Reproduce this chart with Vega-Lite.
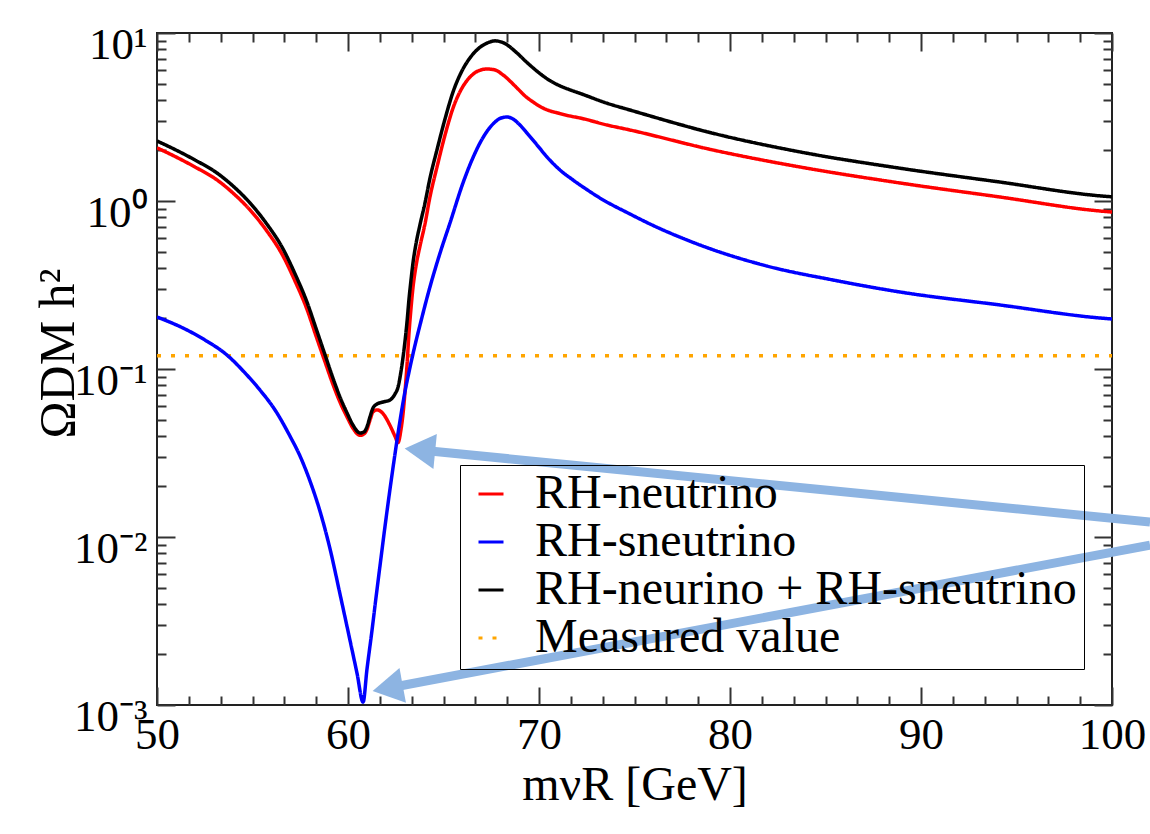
{
  "$schema": "https://vega.github.io/schema/vega-lite/v6.json",
  "width": 955,
  "height": 672,
  "autosize": "none",
  "padding": {"left": 157, "top": 33, "right": 38, "bottom": 129},
  "background": "white",
  "config": {
    "font": "Liberation Serif",
    "view": {"stroke": "#222", "strokeWidth": 2},
    "axis": {"grid": false, "domain": false, "labelFont": "Liberation Serif", "titleFont": "Liberation Serif", "labelColor": "#000", "titleColor": "#000", "tickColor": "#333", "labelFlush": false, "labelOverlap": false, "labelBound": false, "titleFontWeight": "normal"}
  },
  "datasets": {
    "curves": [
      {"m": 50, "v": 0.12, "s": "Measured value"},
      {"m": 100, "v": 0.12, "s": "Measured value"},
      {"m": 50.00, "v": 2.072, "s": "RH-neutrino"},
      {"m": 50.99, "v": 1.83, "s": "RH-neutrino"},
      {"m": 51.99, "v": 1.594, "s": "RH-neutrino"},
      {"m": 53.14, "v": 1.335, "s": "RH-neutrino"},
      {"m": 53.98, "v": 1.115, "s": "RH-neutrino"},
      {"m": 54.87, "v": 0.885, "s": "RH-neutrino"},
      {"m": 55.71, "v": 0.673, "s": "RH-neutrino"},
      {"m": 56.60, "v": 0.47, "s": "RH-neutrino"},
      {"m": 57.23, "v": 0.333, "s": "RH-neutrino"},
      {"m": 57.85, "v": 0.227, "s": "RH-neutrino"},
      {"m": 58.32, "v": 0.158, "s": "RH-neutrino"},
      {"m": 58.80, "v": 0.11, "s": "RH-neutrino"},
      {"m": 59.21, "v": 0.0811, "s": "RH-neutrino"},
      {"m": 59.58, "v": 0.0635, "s": "RH-neutrino"},
      {"m": 59.95, "v": 0.0518, "s": "RH-neutrino"},
      {"m": 60.26, "v": 0.0444, "s": "RH-neutrino"},
      {"m": 60.63, "v": 0.0403, "s": "RH-neutrino"},
      {"m": 60.84, "v": 0.0411, "s": "RH-neutrino"},
      {"m": 60.99, "v": 0.0436, "s": "RH-neutrino"},
      {"m": 61.15, "v": 0.0496, "s": "RH-neutrino"},
      {"m": 61.31, "v": 0.0556, "s": "RH-neutrino"},
      {"m": 61.52, "v": 0.0571, "s": "RH-neutrino"},
      {"m": 61.83, "v": 0.0543, "s": "RH-neutrino"},
      {"m": 62.20, "v": 0.0461, "s": "RH-neutrino"},
      {"m": 62.46, "v": 0.0398, "s": "RH-neutrino"},
      {"m": 62.62, "v": 0.0365, "s": "RH-neutrino"},
      {"m": 62.77, "v": 0.0433, "s": "RH-neutrino"},
      {"m": 62.88, "v": 0.054, "s": "RH-neutrino"},
      {"m": 62.98, "v": 0.072, "s": "RH-neutrino"},
      {"m": 63.09, "v": 0.1056, "s": "RH-neutrino"},
      {"m": 63.19, "v": 0.1616, "s": "RH-neutrino"},
      {"m": 63.30, "v": 0.2307, "s": "RH-neutrino"},
      {"m": 63.40, "v": 0.3035, "s": "RH-neutrino"},
      {"m": 63.56, "v": 0.41, "s": "RH-neutrino"},
      {"m": 63.77, "v": 0.54, "s": "RH-neutrino"},
      {"m": 64.03, "v": 0.73, "s": "RH-neutrino"},
      {"m": 64.29, "v": 1.056, "s": "RH-neutrino"},
      {"m": 64.66, "v": 1.594, "s": "RH-neutrino"},
      {"m": 65.08, "v": 2.471, "s": "RH-neutrino"},
      {"m": 65.50, "v": 3.577, "s": "RH-neutrino"},
      {"m": 65.97, "v": 4.706, "s": "RH-neutrino"},
      {"m": 66.39, "v": 5.47, "s": "RH-neutrino"},
      {"m": 66.81, "v": 5.94, "s": "RH-neutrino"},
      {"m": 67.28, "v": 6.107, "s": "RH-neutrino"},
      {"m": 67.70, "v": 6.024, "s": "RH-neutrino"},
      {"m": 68.12, "v": 5.623, "s": "RH-neutrino"},
      {"m": 68.85, "v": 4.706, "s": "RH-neutrino"},
      {"m": 69.27, "v": 4.217, "s": "RH-neutrino"},
      {"m": 69.69, "v": 3.885, "s": "RH-neutrino"},
      {"m": 70.10, "v": 3.627, "s": "RH-neutrino"},
      {"m": 70.52, "v": 3.457, "s": "RH-neutrino"},
      {"m": 70.99, "v": 3.34, "s": "RH-neutrino"},
      {"m": 71.62, "v": 3.205, "s": "RH-neutrino"},
      {"m": 72.15, "v": 3.119, "s": "RH-neutrino"},
      {"m": 73.56, "v": 2.835, "s": "RH-neutrino"},
      {"m": 74.76, "v": 2.647, "s": "RH-neutrino"},
      {"m": 79.11, "v": 2.012, "s": "RH-neutrino"},
      {"m": 83.66, "v": 1.594, "s": "RH-neutrino"},
      {"m": 88.90, "v": 1.28, "s": "RH-neutrino"},
      {"m": 94.14, "v": 1.056, "s": "RH-neutrino"},
      {"m": 99.37, "v": 0.872, "s": "RH-neutrino"},
      {"m": 100.00, "v": 0.86, "s": "RH-neutrino"},
      {"m": 50.00, "v": 0.2039, "s": "RH-sneutrino"},
      {"m": 51.36, "v": 0.1754, "s": "RH-sneutrino"},
      {"m": 52.51, "v": 0.1488, "s": "RH-sneutrino"},
      {"m": 53.66, "v": 0.1212, "s": "RH-sneutrino"},
      {"m": 54.61, "v": 0.0947, "s": "RH-sneutrino"},
      {"m": 55.39, "v": 0.075, "s": "RH-sneutrino"},
      {"m": 56.18, "v": 0.057, "s": "RH-sneutrino"},
      {"m": 56.96, "v": 0.0399, "s": "RH-sneutrino"},
      {"m": 57.49, "v": 0.0303, "s": "RH-sneutrino"},
      {"m": 58.01, "v": 0.02154, "s": "RH-sneutrino"},
      {"m": 58.53, "v": 0.01428, "s": "RH-sneutrino"},
      {"m": 59.06, "v": 0.00849, "s": "RH-sneutrino"},
      {"m": 59.58, "v": 0.00458, "s": "RH-sneutrino"},
      {"m": 60.10, "v": 0.00244, "s": "RH-sneutrino"},
      {"m": 60.47, "v": 0.00155, "s": "RH-sneutrino"},
      {"m": 60.79, "v": 0.00104, "s": "RH-sneutrino"},
      {"m": 60.99, "v": 0.00162, "s": "RH-sneutrino"},
      {"m": 61.26, "v": 0.0028, "s": "RH-sneutrino"},
      {"m": 61.47, "v": 0.0044, "s": "RH-sneutrino"},
      {"m": 61.68, "v": 0.00681, "s": "RH-sneutrino"},
      {"m": 61.94, "v": 0.01163, "s": "RH-sneutrino"},
      {"m": 62.20, "v": 0.01931, "s": "RH-sneutrino"},
      {"m": 62.46, "v": 0.0312, "s": "RH-sneutrino"},
      {"m": 62.72, "v": 0.049, "s": "RH-sneutrino"},
      {"m": 62.98, "v": 0.073, "s": "RH-sneutrino"},
      {"m": 63.25, "v": 0.1027, "s": "RH-sneutrino"},
      {"m": 63.51, "v": 0.1389, "s": "RH-sneutrino"},
      {"m": 63.77, "v": 0.1827, "s": "RH-sneutrino"},
      {"m": 64.29, "v": 0.3076, "s": "RH-sneutrino"},
      {"m": 64.82, "v": 0.4903, "s": "RH-sneutrino"},
      {"m": 65.34, "v": 0.74, "s": "RH-sneutrino"},
      {"m": 66.02, "v": 1.28, "s": "RH-sneutrino"},
      {"m": 66.49, "v": 1.754, "s": "RH-sneutrino"},
      {"m": 66.91, "v": 2.215, "s": "RH-sneutrino"},
      {"m": 67.33, "v": 2.647, "s": "RH-sneutrino"},
      {"m": 67.70, "v": 2.953, "s": "RH-sneutrino"},
      {"m": 68.01, "v": 3.119, "s": "RH-sneutrino"},
      {"m": 68.32, "v": 3.162, "s": "RH-sneutrino"},
      {"m": 68.64, "v": 3.077, "s": "RH-sneutrino"},
      {"m": 68.95, "v": 2.873, "s": "RH-sneutrino"},
      {"m": 69.37, "v": 2.54, "s": "RH-sneutrino"},
      {"m": 69.90, "v": 2.154, "s": "RH-sneutrino"},
      {"m": 70.42, "v": 1.828, "s": "RH-sneutrino"},
      {"m": 71.10, "v": 1.529, "s": "RH-sneutrino"},
      {"m": 71.78, "v": 1.334, "s": "RH-sneutrino"},
      {"m": 72.46, "v": 1.179, "s": "RH-sneutrino"},
      {"m": 73.19, "v": 1.042, "s": "RH-sneutrino"},
      {"m": 74.76, "v": 0.837, "s": "RH-sneutrino"},
      {"m": 75.81, "v": 0.73, "s": "RH-sneutrino"},
      {"m": 78.43, "v": 0.547, "s": "RH-sneutrino"},
      {"m": 81.94, "v": 0.41, "s": "RH-sneutrino"},
      {"m": 85.39, "v": 0.3387, "s": "RH-sneutrino"},
      {"m": 88.90, "v": 0.2873, "s": "RH-sneutrino"},
      {"m": 94.14, "v": 0.2404, "s": "RH-sneutrino"},
      {"m": 99.37, "v": 0.2012, "s": "RH-sneutrino"},
      {"m": 100.00, "v": 0.1985, "s": "RH-sneutrino"},
      {"m": 50.00, "v": 2.276, "s": "RH-neurino + RH-sneutrino"},
      {"m": 50.99, "v": 2.012, "s": "RH-neurino + RH-sneutrino"},
      {"m": 51.99, "v": 1.754, "s": "RH-neurino + RH-sneutrino"},
      {"m": 53.14, "v": 1.468, "s": "RH-neurino + RH-sneutrino"},
      {"m": 53.98, "v": 1.228, "s": "RH-neurino + RH-sneutrino"},
      {"m": 54.87, "v": 0.973, "s": "RH-neurino + RH-sneutrino"},
      {"m": 55.71, "v": 0.74, "s": "RH-neurino + RH-sneutrino"},
      {"m": 56.60, "v": 0.518, "s": "RH-neurino + RH-sneutrino"},
      {"m": 57.23, "v": 0.3677, "s": "RH-neurino + RH-sneutrino"},
      {"m": 57.85, "v": 0.2506, "s": "RH-neurino + RH-sneutrino"},
      {"m": 58.32, "v": 0.1754, "s": "RH-neurino + RH-sneutrino"},
      {"m": 58.80, "v": 0.1212, "s": "RH-neurino + RH-sneutrino"},
      {"m": 59.21, "v": 0.0884, "s": "RH-neurino + RH-sneutrino"},
      {"m": 59.58, "v": 0.0681, "s": "RH-neurino + RH-sneutrino"},
      {"m": 59.95, "v": 0.0547, "s": "RH-neurino + RH-sneutrino"},
      {"m": 60.26, "v": 0.0464, "s": "RH-neurino + RH-sneutrino"},
      {"m": 60.63, "v": 0.0416, "s": "RH-neurino + RH-sneutrino"},
      {"m": 60.84, "v": 0.0422, "s": "RH-neurino + RH-sneutrino"},
      {"m": 60.99, "v": 0.0452, "s": "RH-neurino + RH-sneutrino"},
      {"m": 61.15, "v": 0.0518, "s": "RH-neurino + RH-sneutrino"},
      {"m": 61.31, "v": 0.0586, "s": "RH-neurino + RH-sneutrino"},
      {"m": 61.52, "v": 0.0619, "s": "RH-neurino + RH-sneutrino"},
      {"m": 61.83, "v": 0.0636, "s": "RH-neurino + RH-sneutrino"},
      {"m": 62.20, "v": 0.0654, "s": "RH-neurino + RH-sneutrino"},
      {"m": 62.46, "v": 0.071, "s": "RH-neurino + RH-sneutrino"},
      {"m": 62.62, "v": 0.078, "s": "RH-neurino + RH-sneutrino"},
      {"m": 62.77, "v": 0.096, "s": "RH-neurino + RH-sneutrino"},
      {"m": 62.88, "v": 0.117, "s": "RH-neurino + RH-sneutrino"},
      {"m": 62.98, "v": 0.145, "s": "RH-neurino + RH-sneutrino"},
      {"m": 63.09, "v": 0.191, "s": "RH-neurino + RH-sneutrino"},
      {"m": 63.19, "v": 0.258, "s": "RH-neurino + RH-sneutrino"},
      {"m": 63.30, "v": 0.34, "s": "RH-neurino + RH-sneutrino"},
      {"m": 63.40, "v": 0.426, "s": "RH-neurino + RH-sneutrino"},
      {"m": 63.56, "v": 0.556, "s": "RH-neurino + RH-sneutrino"},
      {"m": 63.77, "v": 0.723, "s": "RH-neurino + RH-sneutrino"},
      {"m": 64.03, "v": 0.973, "s": "RH-neurino + RH-sneutrino"},
      {"m": 64.29, "v": 1.364, "s": "RH-neurino + RH-sneutrino"},
      {"m": 64.66, "v": 2.02, "s": "RH-neurino + RH-sneutrino"},
      {"m": 65.08, "v": 3.08, "s": "RH-neurino + RH-sneutrino"},
      {"m": 65.50, "v": 4.46, "s": "RH-neurino + RH-sneutrino"},
      {"m": 65.97, "v": 5.96, "s": "RH-neurino + RH-sneutrino"},
      {"m": 66.39, "v": 7.12, "s": "RH-neurino + RH-sneutrino"},
      {"m": 66.81, "v": 8.04, "s": "RH-neurino + RH-sneutrino"},
      {"m": 67.28, "v": 8.71, "s": "RH-neurino + RH-sneutrino"},
      {"m": 67.70, "v": 8.98, "s": "RH-neurino + RH-sneutrino"},
      {"m": 68.12, "v": 8.76, "s": "RH-neurino + RH-sneutrino"},
      {"m": 68.85, "v": 7.6, "s": "RH-neurino + RH-sneutrino"},
      {"m": 69.27, "v": 6.84, "s": "RH-neurino + RH-sneutrino"},
      {"m": 69.69, "v": 6.2, "s": "RH-neurino + RH-sneutrino"},
      {"m": 70.10, "v": 5.68, "s": "RH-neurino + RH-sneutrino"},
      {"m": 70.52, "v": 5.25, "s": "RH-neurino + RH-sneutrino"},
      {"m": 70.99, "v": 4.91, "s": "RH-neurino + RH-sneutrino"},
      {"m": 71.62, "v": 4.59, "s": "RH-neurino + RH-sneutrino"},
      {"m": 72.15, "v": 4.37, "s": "RH-neurino + RH-sneutrino"},
      {"m": 73.56, "v": 3.82, "s": "RH-neurino + RH-sneutrino"},
      {"m": 74.76, "v": 3.48, "s": "RH-neurino + RH-sneutrino"},
      {"m": 79.11, "v": 2.53, "s": "RH-neurino + RH-sneutrino"},
      {"m": 83.66, "v": 1.96, "s": "RH-neurino + RH-sneutrino"},
      {"m": 88.90, "v": 1.567, "s": "RH-neurino + RH-sneutrino"},
      {"m": 94.14, "v": 1.296, "s": "RH-neurino + RH-sneutrino"},
      {"m": 99.37, "v": 1.073, "s": "RH-neurino + RH-sneutrino"},
      {"m": 100.00, "v": 1.059, "s": "RH-neurino + RH-sneutrino"}
    ],
    "arrows": [
      {"m": 101.99, "v": 0.01227, "m2": 64.03, "v2": 0.03273},
      {"m": 101.99, "v": 0.008954, "m2": 62.34, "v2": 0.001276}
    ],
    "head1": [{"m": 64.03, "v": 0.03273}],
    "head2": [{"m": 62.34, "v": 0.001276}],
    "anchor": [{"m": 75, "v": 0.1}]
  },
  "resolve": {"axis": {"x": "independent", "y": "independent"}},
  "layer": [
    {
      "data": {"name": "curves"},
      "mark": {"type": "line", "strokeWidth": 3.5, "interpolate": "monotone", "clip": true},
      "encoding": {
        "x": {"field": "m", "type": "quantitative",
              "scale": {"domain": [50, 100], "nice": false, "zero": false},
              "axis": {"orient": "bottom", "values": [50, 60, 70, 80, 90, 100], "ticks": false, "labelFontSize": 45, "labelPadding": 7, "labelBaseline": "top",
                       "title": "mνR [GeV]", "titleFontSize": 48, "titleBaseline": "alphabetic", "titleY": 94}},
        "y": {"field": "v", "type": "quantitative",
              "scale": {"type": "log", "domain": [0.001, 10], "nice": false},
              "axis": {"orient": "left", "values": [0.001, 0.01, 0.1, 1, 10], "ticks": false, "labelFontSize": 45, "labelPadding": 10, "labelBaseline": "alphabetic", "labelOffset": 25, "labelAlign": "right",
                       "labelExpr": "'10' + (round(log(datum.value)/LN10) == 1 ? '¹' : round(log(datum.value)/LN10) == 0 ? '⁰' : round(log(datum.value)/LN10) == -1 ? '⁻¹' : round(log(datum.value)/LN10) == -2 ? '⁻²' : '⁻³')",
                       "title": "ΩDM h²", "titleFontSize": 50, "titleBaseline": "alphabetic", "titleX": -84, "titleY": 320, "titleAngle": -90, "titleAlign": "center"}},
        "color": {"field": "s", "type": "nominal",
                  "scale": {"domain": ["RH-neutrino", "RH-sneutrino", "RH-neurino + RH-sneutrino", "Measured value"], "range": ["#ff0000", "#0000ff", "#000000", "#ffa500"]},
                  "legend": {"orient": "none", "legendX": 303, "legendY": 432, "title": null, "strokeColor": "#000", "padding": 7,
                             "symbolType": "stroke", "symbolSize": 625, "symbolStrokeWidth": 3, "labelFont": "Liberation Serif", "labelFontSize": 48, "labelColor": "#000", "labelOffset": 20, "rowPadding": 0, "clipHeight": 44, "labelLimit": 0}},
        "strokeDash": {"field": "s", "type": "nominal",
                       "scale": {"domain": ["RH-neutrino", "RH-sneutrino", "RH-neurino + RH-sneutrino", "Measured value"], "range": [[1, 0], [1, 0], [1, 0], [4, 10]]},
                       "legend": {"orient": "none", "legendX": 303, "legendY": 432, "title": null}},
        "strokeWidth": {"condition": {"test": "datum.s == 'Measured value'", "value": 4}, "value": 3.5}
      }
    },
    {
      "data": {"name": "anchor"},
      "mark": {"type": "point", "opacity": 0},
      "encoding": {
        "x": {"field": "m", "type": "quantitative", "scale": {"domain": [50, 100], "nice": false, "zero": false},
              "axis": {"orient": "bottom", "values": [50, 60, 70, 80, 90, 100], "labels": false, "tickSize": -18, "tickWidth": 2, "title": null}},
        "y": {"field": "v", "type": "quantitative", "scale": {"type": "log", "domain": [0.001, 10], "nice": false},
              "axis": {"orient": "left", "values": [0.001, 0.01, 0.1, 1, 10], "labels": false, "tickSize": -18, "tickWidth": 2, "title": null}}
      }
    },
    {
      "data": {"name": "anchor"},
      "mark": {"type": "point", "opacity": 0},
      "encoding": {
        "x": {"field": "m", "type": "quantitative", "scale": {"domain": [50, 100], "nice": false, "zero": false},
              "axis": {"orient": "bottom", "values": [51.667, 53.333, 55, 56.667, 58.333, 61.667, 63.333, 65, 66.667, 68.333, 71.667, 73.333, 75, 76.667, 78.333, 81.667, 83.333, 85, 86.667, 88.333, 91.667, 93.333, 95, 96.667, 98.333], "labels": false, "tickSize": -9, "tickWidth": 2, "title": null}},
        "y": {"field": "v", "type": "quantitative", "scale": {"type": "log", "domain": [0.001, 10], "nice": false},
              "axis": {"orient": "left", "values": [0.002, 0.003, 0.004, 0.005, 0.006, 0.007, 0.008, 0.009, 0.02, 0.03, 0.04, 0.05, 0.06, 0.07, 0.08, 0.09, 0.2, 0.3, 0.4, 0.5, 0.6, 0.7, 0.8, 0.9, 2, 3, 4, 5, 6, 7, 8, 9], "labels": false, "tickSize": -9, "tickWidth": 2, "title": null}}
      }
    },
    {
      "data": {"name": "anchor"},
      "mark": {"type": "point", "opacity": 0},
      "encoding": {
        "x": {"field": "m", "type": "quantitative", "scale": {"domain": [50, 100], "nice": false, "zero": false},
              "axis": {"orient": "top", "values": [50, 60, 70, 80, 90, 100], "labels": false, "tickSize": -18, "tickWidth": 2, "title": null}},
        "y": {"field": "v", "type": "quantitative", "scale": {"type": "log", "domain": [0.001, 10], "nice": false},
              "axis": {"orient": "right", "values": [0.001, 0.01, 0.1, 1, 10], "labels": false, "tickSize": -18, "tickWidth": 2, "title": null}}
      }
    },
    {
      "data": {"name": "anchor"},
      "mark": {"type": "point", "opacity": 0},
      "encoding": {
        "x": {"field": "m", "type": "quantitative", "scale": {"domain": [50, 100], "nice": false, "zero": false},
              "axis": {"orient": "top", "values": [51.667, 53.333, 55, 56.667, 58.333, 61.667, 63.333, 65, 66.667, 68.333, 71.667, 73.333, 75, 76.667, 78.333, 81.667, 83.333, 85, 86.667, 88.333, 91.667, 93.333, 95, 96.667, 98.333], "labels": false, "tickSize": -9, "tickWidth": 2, "title": null}},
        "y": {"field": "v", "type": "quantitative", "scale": {"type": "log", "domain": [0.001, 10], "nice": false},
              "axis": {"orient": "right", "values": [0.002, 0.003, 0.004, 0.005, 0.006, 0.007, 0.008, 0.009, 0.02, 0.03, 0.04, 0.05, 0.06, 0.07, 0.08, 0.09, 0.2, 0.3, 0.4, 0.5, 0.6, 0.7, 0.8, 0.9, 2, 3, 4, 5, 6, 7, 8, 9], "labels": false, "tickSize": -9, "tickWidth": 2, "title": null}}
      }
    },
    {
      "data": {"name": "arrows"},
      "mark": {"type": "rule", "color": "#8db4e2", "strokeWidth": 9, "strokeCap": "butt"},
      "encoding": {
        "x": {"field": "m", "type": "quantitative", "scale": {"domain": [50, 100], "nice": false, "zero": false}, "axis": null},
        "y": {"field": "v", "type": "quantitative", "scale": {"type": "log", "domain": [0.001, 10], "nice": false}, "axis": null},
        "x2": {"field": "m2"},
        "y2": {"field": "v2"}
      }
    },
    {
      "data": {"name": "head1"},
      "mark": {"type": "point", "shape": "triangle", "filled": true, "color": "#8db4e2", "opacity": 1, "size": 1250, "angle": 275.6},
      "encoding": {
        "x": {"field": "m", "type": "quantitative", "scale": {"domain": [50, 100], "nice": false, "zero": false}, "axis": null},
        "y": {"field": "v", "type": "quantitative", "scale": {"type": "log", "domain": [0.001, 10], "nice": false}, "axis": null}
      }
    },
    {
      "data": {"name": "head2"},
      "mark": {"type": "point", "shape": "triangle", "filled": true, "color": "#8db4e2", "opacity": 1, "size": 1250, "angle": 259.4},
      "encoding": {
        "x": {"field": "m", "type": "quantitative", "scale": {"domain": [50, 100], "nice": false, "zero": false}, "axis": null},
        "y": {"field": "v", "type": "quantitative", "scale": {"type": "log", "domain": [0.001, 10], "nice": false}, "axis": null}
      }
    }
  ]
}
